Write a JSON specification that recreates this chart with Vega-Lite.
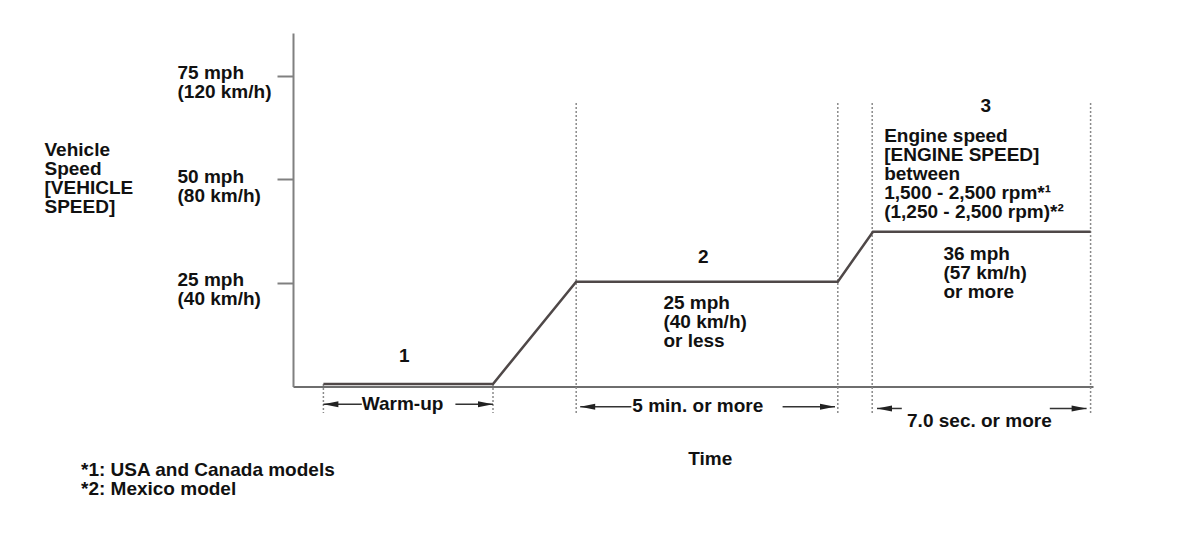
{
  "$schema": "https://vega.github.io/schema/vega-lite/v6.json",
  "autosize": "none",
  "width": 800,
  "height": 353.5,
  "padding": {"left": 293, "top": 33, "right": 107, "bottom": 150.5},
  "background": "white",
  "config": {
    "view": {"stroke": null},
    "font": "Liberation Sans",
    "text": {"font": "Liberation Sans", "fontWeight": "bold", "fontSize": 19, "color": "#111111", "lineHeight": 19, "lineBreak": "\n", "baseline": "alphabetic"}
  },
  "title": {
    "text": ["*1: USA and Canada models", "*2: Mexico model"],
    "orient": "bottom",
    "anchor": "start",
    "frame": "group",
    "font": "Liberation Sans",
    "fontSize": 19,
    "fontWeight": "bold",
    "color": "#111111",
    "lineHeight": 19,
    "dx": -212,
    "dy": -8,
    "offset": 0
  },
  "datasets": {
    "profile": [
      {"time": 3.8, "mph": 0.6},
      {"time": 25.0, "mph": 0.6},
      {"time": 35.4, "mph": 25.3},
      {"time": 68.1, "mph": 25.3},
      {"time": 72.5, "mph": 37.35},
      {"time": 99.7, "mph": 37.35}
    ],
    "guides": [
      {"time": 3.8, "top": 0.6, "bottom": -6.4},
      {"time": 25.0, "top": 0.6, "bottom": -6.4},
      {"time": 35.4, "top": 68.4, "bottom": -6.4},
      {"time": 68.1, "top": 68.4, "bottom": -6.4},
      {"time": 72.4, "top": 68.4, "bottom": -6.4},
      {"time": 99.7, "top": 68.4, "bottom": -6.4}
    ],
    "shafts": [
      {"from": 3.8, "to": 8.6, "level": -4.3},
      {"from": 20.3, "to": 25.0, "level": -4.3},
      {"from": 35.9, "to": 42.3, "level": -4.9},
      {"from": 61.2, "to": 67.75, "level": -4.9},
      {"from": 73.0, "to": 76.1, "level": -5.3},
      {"from": 94.6, "to": 99.2, "level": -5.3}
    ],
    "heads": [
      {"time": 3.8, "level": -4.3, "dir": "left"},
      {"time": 25.0, "level": -4.3, "dir": "right"},
      {"time": 35.9, "level": -4.9, "dir": "left"},
      {"time": 67.75, "level": -4.9, "dir": "right"},
      {"time": 73.0, "level": -5.3, "dir": "left"},
      {"time": 99.2, "level": -5.3, "dir": "right"}
    ],
    "centerLabels": [
      {"time": 13.9, "mph": 6.0, "label": "1"},
      {"time": 51.3, "mph": 29.7, "label": "2"},
      {"time": 86.6, "mph": 66.2, "label": "3"},
      {"time": 13.7, "mph": -5.7, "label": "Warm-up"},
      {"time": 50.6, "mph": -6.1, "label": "5 min. or more"},
      {"time": 85.8, "mph": -9.7, "label": "7.0 sec. or more"}
    ],
    "leftLabels": [
      {"time": 46.3, "mph": 18.6, "label": "25 mph\n(40 km/h)\nor less"},
      {"time": 73.9, "mph": 59.1, "label": "Engine speed\n[ENGINE SPEED]\nbetween\n1,500 - 2,500 rpm*¹\n(1,250 - 2,500 rpm)*²"},
      {"time": 81.3, "mph": 30.5, "label": "36 mph\n(57 km/h)\nor more"}
    ]
  },
  "layer": [
    {
      "data": {"name": "guides"},
      "mark": {"type": "rule", "color": "#8a8a8a", "strokeWidth": 1.5, "strokeDash": [2, 2]},
      "encoding": {
        "x": {
          "field": "time", "type": "quantitative",
          "scale": {"domain": [0, 100], "nice": false, "zero": false},
          "axis": {
            "title": "Time",
            "titleFont": "Liberation Sans", "titleFontSize": 19, "titleFontWeight": "bold", "titleColor": "#111111",
            "titleX": 416.7, "titleY": 78, "titleAlign": "center", "titleBaseline": "alphabetic",
            "domainColor": "#6e6e6e", "domainWidth": 2,
            "ticks": false, "labels": false, "grid": false
          }
        },
        "y": {
          "field": "top", "type": "quantitative",
          "scale": {"domain": [0, 85.3], "nice": false, "zero": false},
          "axis": {
            "title": ["Vehicle", "Speed", "[VEHICLE", "SPEED]"],
            "titleFont": "Liberation Sans", "titleFontSize": 19, "titleFontWeight": "bold", "titleColor": "#111111",
            "titleLineHeight": 19,
            "titleAngle": 0, "titleAlign": "left", "titleBaseline": "alphabetic",
            "titleX": -249, "titleY": 122,
            "values": [25, 50, 75],
            "labelExpr": "datum.value == 75 ? ['75 mph', '(120 km/h)'] : datum.value == 50 ? ['50 mph', '(80 km/h)'] : ['25 mph', '(40 km/h)']",
            "labelFont": "Liberation Sans", "labelFontSize": 19, "labelFontWeight": "bold", "labelColor": "#111111",
            "labelLineHeight": 19,
            "labelAlign": "left", "labelBaseline": "alphabetic", "labelOffset": 3,
            "labelPadding": 100, "labelOverlap": false, "labelBound": false, "labelFlush": false,
            "tickSize": 16, "tickWidth": 2, "tickColor": "#808080",
            "domainColor": "#808080", "domainWidth": 2,
            "grid": false
          }
        },
        "y2": {"field": "bottom"}
      }
    },
    {
      "data": {"name": "profile"},
      "mark": {"type": "line", "color": "#4f4848", "strokeWidth": 2.5, "strokeJoin": "miter"},
      "encoding": {
        "x": {"field": "time", "type": "quantitative"},
        "y": {"field": "mph", "type": "quantitative"}
      }
    },
    {
      "data": {"name": "shafts"},
      "mark": {"type": "rule", "color": "#333333", "strokeWidth": 1.5},
      "encoding": {
        "x": {"field": "from", "type": "quantitative"},
        "x2": {"field": "to"},
        "y": {"field": "level", "type": "quantitative"}
      }
    },
    {
      "data": {"name": "heads"},
      "mark": {"type": "point", "filled": true, "size": 225, "color": "#222222", "opacity": 1},
      "encoding": {
        "x": {"field": "time", "type": "quantitative"},
        "y": {"field": "level", "type": "quantitative"},
        "shape": {
          "field": "dir", "type": "nominal",
          "scale": {"domain": ["left", "right"], "range": ["M 0 0 L 2 -0.4 L 2 0.4 Z", "M 0 0 L -2 -0.4 L -2 0.4 Z"]},
          "legend": null
        }
      }
    },
    {
      "data": {"name": "centerLabels"},
      "mark": {"type": "text", "align": "center"},
      "encoding": {
        "x": {"field": "time", "type": "quantitative"},
        "y": {"field": "mph", "type": "quantitative"},
        "text": {"field": "label", "type": "nominal"}
      }
    },
    {
      "data": {"name": "leftLabels"},
      "mark": {"type": "text", "align": "left"},
      "encoding": {
        "x": {"field": "time", "type": "quantitative"},
        "y": {"field": "mph", "type": "quantitative"},
        "text": {"field": "label", "type": "nominal"}
      }
    }
  ]
}
